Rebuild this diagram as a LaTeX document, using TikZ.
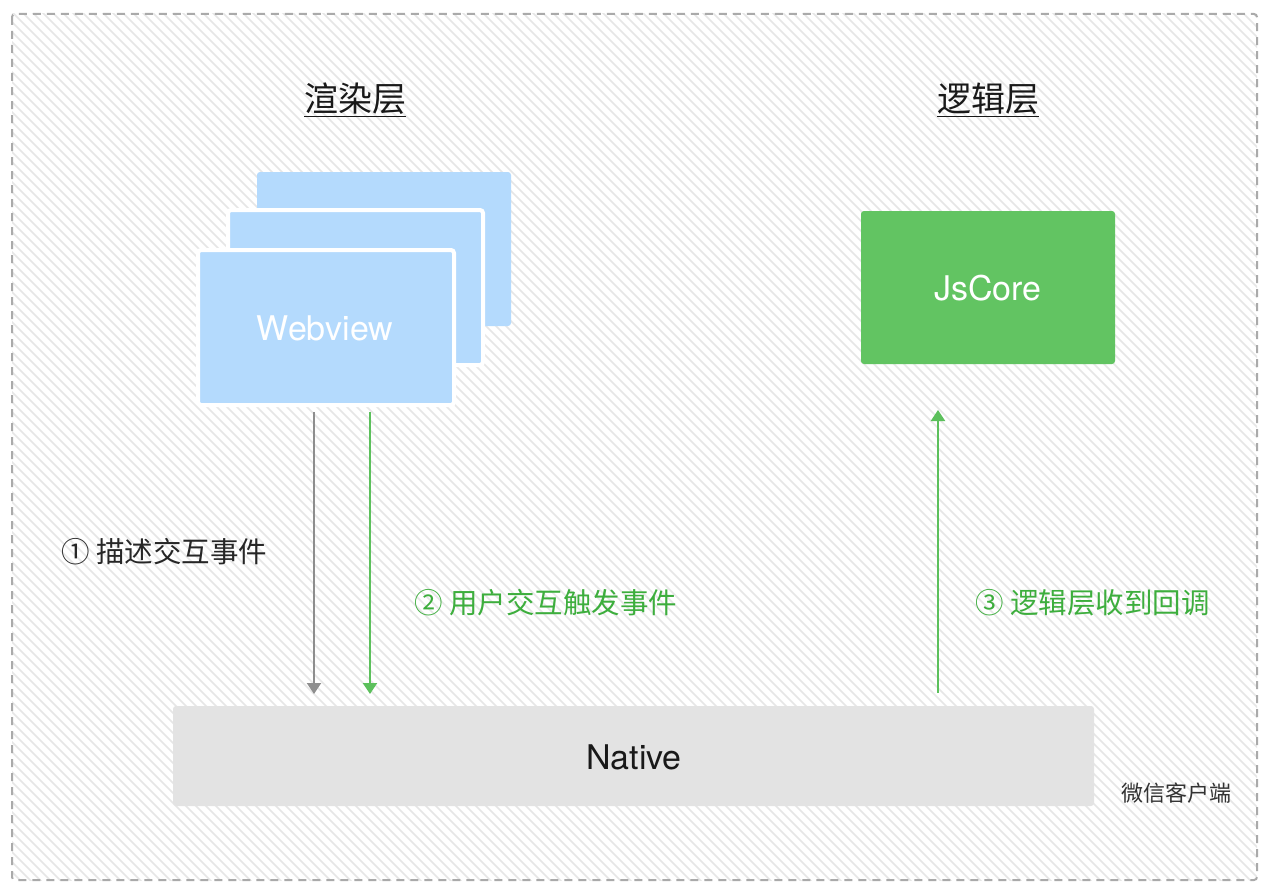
\documentclass[tikz,border=0pt]{standalone}
\usepackage{fontspec}
\setmainfont{Liberation Sans}
\newfontfamily\cjk{Noto Sans CJK SC}
\newfontfamily\latin{TeX Gyre Heros}
\usetikzlibrary{arrows.meta}
\definecolor{hatch}{HTML}{E6E6E6}
\definecolor{frame}{HTML}{AAAAAA}
\definecolor{webblue}{HTML}{B4DAFD}
\definecolor{jsgreen}{HTML}{62C462}
\definecolor{nativegray}{HTML}{E3E3E3}
\definecolor{arrgray}{HTML}{8E8E8E}
\definecolor{arrgreen}{HTML}{5CC05C}
\definecolor{txtgreen}{HTML}{3DAE3D}
\tikzset{
  card/.style={fill=webblue, draw=white, line width=4pt, rounded corners=3pt},
  layer/.style={font=\cjk\fontsize{34}{34}\selectfont, text=black!90},
  boxtext/.style={font=\latin\fontsize{34}{34}\selectfont, text=white},
  flow/.style={line width=2pt, -{Triangle[length=11pt,width=14pt]}},
  lab/.style={font=\cjk\fontsize{28.5}{28.5}\selectfont, anchor=west},
}
\begin{document}
\begin{tikzpicture}[x=1pt,y=-1pt]
\useasboundingbox (0,0) rectangle (1269,891);
\fill[white] (0,0) rectangle (1269,891);
\begin{scope}
\clip (12,14) rectangle (1257,880);
\foreach \i in {-900,-890,...,1269}
  \draw[hatch, line width=1.6pt] (\i,0) -- ++(900,900);
\end{scope}
\draw[frame, line width=2pt, dash pattern=on 8pt off 6pt, rounded corners=3pt] (12,14) rectangle (1257,880);

\node[layer] (t1) at (355,100) {\underline{渲染层}};
\node[layer] (t2) at (988,100) {\underline{逻辑层}};

\draw[card, draw=none] (257,172) rectangle (511,326);
\draw[card] (228,210) rectangle (483,365);
\draw[card] (198,250) rectangle (454,405);
\node[boxtext] (wv) at (325,328) {Webview};
\coordinate (wvb1) at (314,412);
\coordinate (wvb2) at (370,412);

\fill[jsgreen, rounded corners=3pt] (861,211) rectangle (1115,364);
\node[boxtext] (js) at (988,288) {JsCore};
\coordinate (jsb) at (938,410);

\fill[nativegray, rounded corners=3pt] (173,706) rectangle (1094,806);
\node[font=\latin\fontsize{34}{34}\selectfont, text=black!90] (nat) at (634,757) {Native};
\coordinate (n1) at (314,694);
\coordinate (n2) at (370,694);
\coordinate (n3) at (938,693);

\draw[flow, arrgray] (wvb1) -- (n1);
\draw[flow, arrgreen] (wvb2) -- (n2);
\draw[flow, arrgreen] (n3) -- (jsb);

\node[lab, text=black!85] (l1) at (58,552) {① 描述交互事件};
\node[lab, text=txtgreen] (l2) at (411,603) {② 用户交互触发事件};
\node[lab, text=txtgreen] (l3) at (972,603) {③ 逻辑层收到回调};
\node[font=\cjk\fontsize{22}{22}\selectfont, text=black!80] (wx) at (1176,793) {微信客户端};
\end{tikzpicture}
\end{document}
